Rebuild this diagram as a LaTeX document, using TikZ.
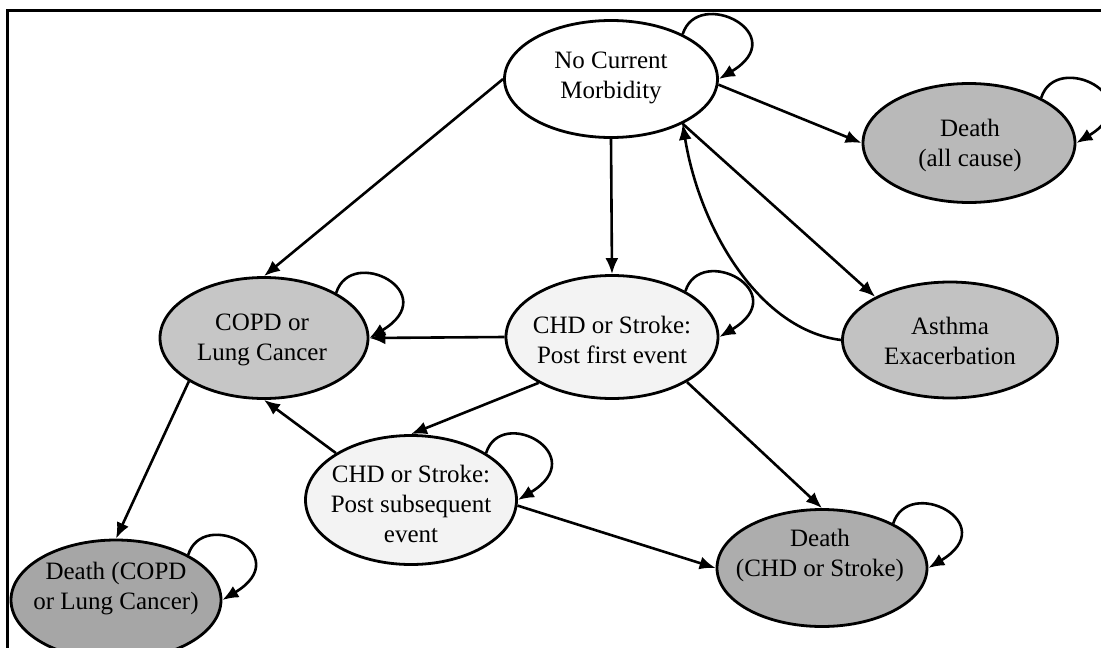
\documentclass[tikz,border=0pt]{standalone}
\usepackage{fontspec}
\setmainfont{Liberation Serif}
\usetikzlibrary{shapes.geometric,arrows.meta}
\definecolor{chdfill}{HTML}{F3F3F3}
\definecolor{copdfill}{HTML}{C6C6C6}
\definecolor{asthfill}{HTML}{C2C2C2}
\definecolor{dallfill}{HTML}{B9B9B9}
\definecolor{dchdfill}{HTML}{ADADAD}
\definecolor{dcopdfill}{HTML}{A6A6A6}
\begin{document}
\begin{tikzpicture}[x=1pt,y=-1pt,
  state/.style={ellipse, draw=black, line width=2.8pt, inner sep=0pt},
  txt/.style={align=center, inner sep=0pt, font=\fontsize{25}{30}\selectfont},
  arr/.style={draw=black, line width=2.6pt, -{Latex[length=16pt,width=13pt]}},
  selfloop/.style={arr},
]
\useasboundingbox (0,0) rectangle (1101,648);
\draw[line width=3pt] (7,650) -- (7,10) -- (1103,10);

% states
\node[state, fill=white, minimum width=213pt, minimum height=117pt] (ncm) at (611,79) {};
\node[state, fill=dallfill, minimum width=212pt, minimum height=119pt] (dall) at (969,143) {};
\node[state, fill=copdfill, minimum width=208pt, minimum height=121pt] (copd) at (264,338) {};
\node[state, fill=chdfill, minimum width=212pt, minimum height=123pt] (chd1) at (612,337) {};
\node[state, fill=asthfill, minimum width=215pt, minimum height=116pt] (asth) at (950,340) {};
\node[state, fill=chdfill, minimum width=211pt, minimum height=129pt] (chd2) at (411,500) {};
\node[state, fill=dchdfill, minimum width=210pt, minimum height=117pt] (dchd) at (822,568) {};
\node[state, fill=dcopdfill, minimum width=210pt, minimum height=120pt] (dcopd) at (116,600) {};

% labels
\node[txt] (ncmT) at (611,78) {No Current\\Morbidity};
\node[txt] (dallT) at (970,145) {Death\\(all cause)};
\node[txt] (copdT) at (262,340) {COPD or\\Lung Cancer};
\node[txt] (chd1T) at (612,340) {CHD or Stroke:\\Post first event};
\node[txt] (asthT) at (950,341) {Asthma\\Exacerbation};
\node[txt] (chd2T) at (411,504) {CHD or Stroke:\\Post subsequent\\event};
\node[txt] (dchdT) at (820,555) {Death\\(CHD or Stroke)};
\node[txt] (dcopdT) at (116,589) {Death (COPD\\or Lung Cancer)};

% transitions
\draw[arr] (ncm.-3) -- (dall.west);
\draw[arr] (ncm.west) -- (copd.north);
\draw[arr] (ncm.south) -- (chd1.north);
\draw[arr] (ncm.-32) -- (asth.150);
\draw[arr] (asth.west) .. controls (760,330) and (700,230) .. (ncm.-32);
\draw[arr] (chd1.west) -- (copd.east);
\draw[arr] (chd1.212) -- (chd2.north);
\draw[arr] (chd1.-31) -- (dchd.north);
\draw[arr] (chd2.148) -- (copd.south);
\draw[arr] (chd2.-3) -- (dchd.west);
\draw[arr] (copd.210) -- (dcopd.north);

% self loops
\foreach \n in {ncm,dall,copd,chd1,chd2,dchd,dcopd}{
  \draw[selfloop] (\n.32) .. controls +(15,-48) and +(75,-45) .. (\n.0);
}
\end{tikzpicture}
\end{document}
